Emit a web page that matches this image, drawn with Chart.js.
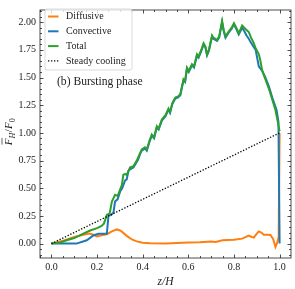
<!DOCTYPE html>
<html>
<head>
<meta charset="utf-8">
<script src="https://cdn.jsdelivr.net/npm/chart.js@4"></script>
<style>
  html, body { margin: 0; padding: 0; background: #fff; }
  #wrap { width: 295px; height: 289px; }
</style>
</head>
<body>
<div id="wrap"><canvas id="fluxChart" width="295" height="289"></canvas></div>
<script>
// Data
const totalZ = [0, 0.04, 0.067, 0.1, 0.14, 0.17, 0.2, 0.22, 0.23, 0.243, 0.255, 0.265, 0.279, 0.29, 0.309, 0.315, 0.323, 0.33, 0.345, 0.36, 0.374, 0.389, 0.396, 0.41, 0.418, 0.43, 0.44, 0.45, 0.462, 0.47, 0.484, 0.5, 0.513, 0.52, 0.53, 0.543, 0.555, 0.565, 0.572, 0.579, 0.586, 0.594, 0.602, 0.616, 0.625, 0.638, 0.645, 0.655, 0.667, 0.675, 0.682, 0.69, 0.704, 0.71, 0.726, 0.735, 0.748, 0.755, 0.763, 0.775, 0.79, 0.8, 0.81, 0.821, 0.836, 0.845, 0.855, 0.865, 0.875, 0.885, 0.895, 0.909, 0.915, 0.924, 0.935, 0.953, 0.965, 0.982, 0.993, 1.0];
const totalF = [0, 0.01, 0.03, 0.05, 0.09, 0.118, 0.14, 0.16, 0.18, 0.26, 0.27, 0.38, 0.44, 0.43, 0.53, 0.62, 0.63, 0.62, 0.69, 0.7, 0.75, 0.82, 0.85, 0.87, 0.85, 0.93, 0.985, 0.96, 1.06, 1.04, 1.12, 1.16, 1.22, 1.19, 1.27, 1.32, 1.33, 1.35, 1.42, 1.485, 1.47, 1.59, 1.56, 1.62, 1.6, 1.71, 1.69, 1.74, 1.81, 1.78, 1.71, 1.75, 1.88, 1.86, 1.84, 1.87, 2.01, 1.93, 1.87, 1.91, 1.95, 1.99, 1.95, 1.9, 1.97, 1.95, 1.93, 1.91, 1.86, 1.82, 1.765, 1.71, 1.66, 1.56, 1.5, 1.4, 1.32, 1.205, 1.09, 1.015];

const convZ = [0, 0.05, 0.11, 0.155, 0.184, 0.206, 0.228, 0.243, 0.25, 0.262, 0.272, 0.279, 0.29, 0.301, 0.31, 0.323, 0.33, 0.338, 0.36, 0.38, 0.389, 0.396, 0.41, 0.418, 0.43, 0.44, 0.45, 0.462, 0.47, 0.484, 0.5, 0.513, 0.52, 0.53, 0.543, 0.555, 0.565, 0.572, 0.579, 0.586, 0.594, 0.602, 0.616, 0.625, 0.638, 0.645, 0.655, 0.667, 0.675, 0.682, 0.69, 0.704, 0.71, 0.726, 0.735, 0.748, 0.755, 0.763, 0.775, 0.79, 0.8, 0.81, 0.821, 0.836, 0.845, 0.855, 0.865, 0.873, 0.885, 0.895, 0.909, 0.924, 0.938, 0.953, 0.968, 0.987, 0.995, 1.0];
const convF = [0, 0, 0, 0.03, 0.073, 0.088, 0.088, 0.09, 0.25, 0.26, 0.28, 0.38, 0.4, 0.47, 0.5, 0.57, 0.58, 0.66, 0.69, 0.76, 0.81, 0.84, 0.86, 0.84, 0.92, 0.975, 0.95, 1.05, 1.03, 1.11, 1.15, 1.21, 1.18, 1.26, 1.31, 1.32, 1.34, 1.41, 1.475, 1.46, 1.58, 1.55, 1.61, 1.59, 1.7, 1.68, 1.73, 1.8, 1.77, 1.7, 1.74, 1.87, 1.85, 1.83, 1.86, 2.0, 1.92, 1.86, 1.9, 1.94, 1.98, 1.94, 1.89, 1.95, 1.92, 1.88, 1.85, 1.82, 1.78, 1.75, 1.6, 1.56, 1.5, 1.42, 1.32, 1.205, 1.1, 0.0];

const diffZ = [0, 0.05, 0.1, 0.14, 0.165, 0.185, 0.2, 0.22, 0.243, 0.265, 0.287, 0.305, 0.33, 0.355, 0.374, 0.4, 0.433, 0.5, 0.55, 0.6, 0.65, 0.7, 0.72, 0.75, 0.8, 0.836, 0.865, 0.878, 0.887, 0.9, 0.909, 0.92, 0.931, 0.945, 0.96, 0.972, 0.982, 0.99, 0.996, 1.0];
const diffF = [0, 0.025, 0.06, 0.08, 0.09, 0.08, 0.065, 0.075, 0.085, 0.11, 0.128, 0.115, 0.07, 0.035, 0.02, 0.008, 0.003, 0.002, 0.005, 0.01, 0.012, 0.018, 0.015, 0.03, 0.035, 0.045, 0.072, 0.06, 0.055, 0.09, 0.11, 0.1, 0.08, 0.08, 0.078, 0.04, -0.03, 0.01, 0.06, 1.0];

const steadyZ = [0, 1];
const steadyF = [0, 1];

const xTicks = [0, 0.2, 0.4, 0.6, 0.8, 1.0];
const yTicks = [0, 0.25, 0.5, 0.75, 1.0, 1.25, 1.5, 1.75, 2.0];
const legendLabels = ['Diffusive', 'Convective', 'Total', 'Steady cooling'];

const SERIF = '"Liberation Serif", "DejaVu Serif", serif';
const INK = '#222';

function pts(zs, fs) {
  return zs.map((z, i) => ({ x: z, y: fs[i] }));
}

// frame, inward ticks, legend, annotation, y title
const decorations = {
  id: 'decorations',
  afterDraw(chart) {
    const ctx = chart.ctx;
    const a = chart.chartArea;
    const xs = chart.scales.x;
    const ys = chart.scales.y;
    ctx.save();
    ctx.strokeStyle = INK;
    ctx.lineWidth = 0.8;
    ctx.strokeRect(a.left, a.top, a.right - a.left, a.bottom - a.top);

    ctx.beginPath();
    for (let i = -1; i <= 21; i++) {
      const v = i * 0.05;
      const major = i % 4 === 0;
      const len = major ? 3.5 : 2;
      const px = Math.round(xs.getPixelForValue(v)) + 0.5;
      if (px < a.left || px > a.right) continue;
      ctx.moveTo(px, a.bottom); ctx.lineTo(px, a.bottom - len);
      ctx.moveTo(px, a.top); ctx.lineTo(px, a.top + len);
    }
    for (let i = -2; i <= 42; i++) {
      const v = i * 0.05;
      const major = i % 5 === 0;
      const len = major ? 3.5 : 2;
      const py = Math.round(ys.getPixelForValue(v)) + 0.5;
      if (py < a.top || py > a.bottom) continue;
      ctx.moveTo(a.left, py); ctx.lineTo(a.left + len, py);
      ctx.moveTo(a.right, py); ctx.lineTo(a.right - len, py);
    }
    ctx.stroke();

    // legend box
    const bx = 45, by = 9, bw = 87, bh = 61, r = 2;
    ctx.beginPath();
    ctx.moveTo(bx + r, by);
    ctx.arcTo(bx + bw, by, bx + bw, by + bh, r);
    ctx.arcTo(bx + bw, by + bh, bx, by + bh, r);
    ctx.arcTo(bx, by + bh, bx, by, r);
    ctx.arcTo(bx, by, bx + bw, by, r);
    ctx.closePath();
    ctx.fillStyle = 'rgba(255,255,255,0.8)';
    ctx.fill();
    ctx.strokeStyle = '#d0d0d0';
    ctx.lineWidth = 0.8;
    ctx.stroke();

    ctx.font = '10px ' + SERIF;
    ctx.textBaseline = 'middle';
    ctx.textAlign = 'left';
    chart.data.datasets.forEach((ds, i) => {
      const y = 16.5 + i * 14.8;
      ctx.beginPath();
      ctx.strokeStyle = ds.borderColor;
      ctx.lineWidth = ds.borderWidth;
      ctx.setLineDash(ds.borderDash || []);
      ctx.moveTo(48, y); ctx.lineTo(58.5, y);
      ctx.stroke();
      ctx.setLineDash([]);
      ctx.fillStyle = INK;
      ctx.fillText(ds.label, 66, y);
    });

    // panel annotation
    ctx.font = '11.6px ' + SERIF;
    ctx.fillStyle = INK;
    ctx.fillText('(b) Bursting phase', 57, 81.5);

    // y axis title: F̄_H / F_0
    ctx.translate(8.5, 132);
    ctx.rotate(-Math.PI / 2);
    const big = 'italic 11px ' + SERIF;
    const sub = 'italic 8px ' + SERIF;
    const subUp = '8px ' + SERIF;
    const parts = [
      { t: 'F', f: big, dy: 0 },
      { t: 'H', f: sub, dy: 2.5 },
      { t: '/', f: '11px ' + SERIF, dy: 0 },
      { t: 'F', f: big, dy: 0 },
      { t: '0', f: subUp, dy: 2.5 }
    ];
    let total = 0;
    parts.forEach(p => { ctx.font = p.f; p.w = ctx.measureText(p.t).width; total += p.w; });
    let cx = -total / 2;
    ctx.textBaseline = 'alphabetic';
    parts.forEach((p, i) => {
      ctx.font = p.f;
      ctx.fillText(p.t, cx, 3.5 + p.dy);
      if (i === 0) {
        ctx.beginPath();
        ctx.strokeStyle = INK;
        ctx.lineWidth = 0.7;
        ctx.moveTo(cx + 0.5, -6.5); ctx.lineTo(cx + p.w + 0.5, -6.5);
        ctx.stroke();
      }
      cx += p.w + (i === 1 ? 0.5 : 0);
    });
    ctx.restore();
  }
};

function initChart() {
  const ctx = document.getElementById('fluxChart').getContext('2d');
  const data = [
    { label: legendLabels[0], data: pts(diffZ, diffF), borderColor: '#ff7f0e', order: 3 },
    { label: legendLabels[1], data: pts(convZ, convF), borderColor: '#1f77b4', order: 2 },
    { label: legendLabels[2], data: pts(totalZ, totalF), borderColor: '#2ca02c', order: 1 },
    { label: legendLabels[3], data: pts(steadyZ, steadyF), borderColor: '#000000', borderWidth: 1.3, borderDash: [1.3, 1.7], order: 0 }
  ];
  data.forEach(d => {
    d.borderWidth = d.borderWidth || 2;
    d.pointRadius = 0;
    d.tension = 0;
    d.fill = false;
  });

  return new Chart(ctx, {
    type: 'line',
    data: { datasets: data },
    plugins: [decorations],
    options: {
      responsive: false,
      animation: false,
      events: [],
      layout: { padding: { top: 4, right: 4, left: 0, bottom: 0 } },
      plugins: { legend: { display: false }, tooltip: { enabled: false } },
      scales: {
        x: {
          type: 'linear',
          min: -0.05,
          max: 1.05,
          afterBuildTicks: (s) => { s.ticks = xTicks.map(v => ({ value: v })); },
          afterFit: (s) => { s.height = 31; },
          grid: { display: false, drawTicks: false, tickLength: 0 },
          border: { display: false },
          ticks: {
            padding: 3,
            color: INK,
            font: { family: SERIF, size: 10 },
            maxRotation: 0,
            callback: (v) => Number(v).toFixed(1)
          },
          title: {
            display: true,
            text: 'z/H',
            color: INK,
            font: { family: SERIF, size: 11.5, style: 'italic' },
            padding: { top: 0, bottom: 0 }
          }
        },
        y: {
          type: 'linear',
          min: -0.13,
          max: 2.11,
          afterBuildTicks: (s) => { s.ticks = yTicks.map(v => ({ value: v })); },
          afterFit: (s) => { s.width = 40; },
          grid: { display: false, drawTicks: false, tickLength: 0 },
          border: { display: false },
          ticks: {
            padding: 4,
            color: INK,
            font: { family: SERIF, size: 10 },
            callback: (v) => Number(v).toFixed(2)
          }
        }
      }
    }
  });
}

initChart();
</script>
</body>
</html>
